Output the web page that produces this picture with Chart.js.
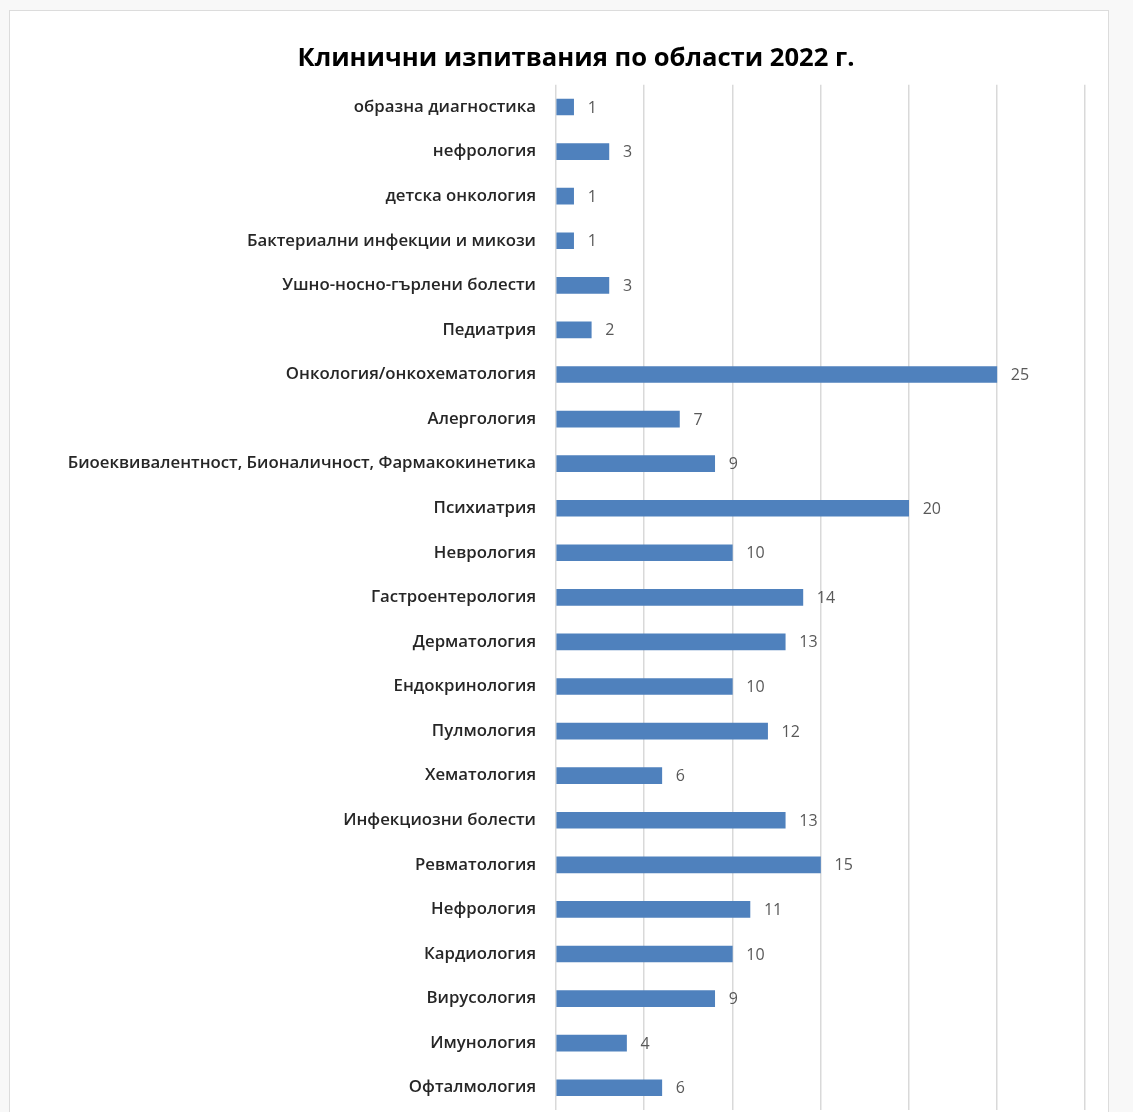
<!DOCTYPE html>
<html>
<head>
<meta charset="utf-8">
<script src="https://cdn.jsdelivr.net/npm/chart.js@4"></script>
<style>
  html, body { margin: 0; padding: 0; background: #f8f8f8; overflow: hidden; }
  #wrap { position: relative; width: 1133px; height: 1112px; }
  #frame { position: absolute; left: 9px; top: 10px; width: 1100px; height: 1120px;
           background: #ffffff; border: 1.5px solid #dcdcdc; box-sizing: border-box; }
  #chart { position: absolute; left: 0; top: 0; }
</style>
</head>
<body>
<div id="wrap">
  <div id="frame"></div>
  <canvas id="chart" width="1133" height="1112"></canvas>
</div>
<script>
const titleText = 'Клинични изпитвания по области 2022 г.';

const categories = [
  'образна диагностика',
  'нефрология',
  'детска онкология',
  'Бактериални инфекции и микози',
  'Ушно-носно-гърлени болести',
  'Педиатрия',
  'Онкология/онкохематология',
  'Алергология',
  'Биоеквивалентност, Бионаличност, Фармакокинетика',
  'Психиатрия',
  'Неврология',
  'Гастроентерология',
  'Дерматология',
  'Ендокринология',
  'Пулмология',
  'Хематология',
  'Инфекциозни болести',
  'Ревматология',
  'Нефрология',
  'Кардиология',
  'Вирусология',
  'Имунология',
  'Офталмология'
];

const trials = [1, 3, 1, 1, 3, 2, 25, 7, 9, 20, 10, 14, 13, 10, 12, 6, 13, 15, 11, 10, 9, 4, 6];

const axisMin = 0;
const axisMax = 30;
const axisStep = 5;

const FONT = '"Open Sans", "Noto Sans", sans-serif';

// Writes each bar's value just past its end
const valueLabels = {
  id: 'valueLabels',
  afterDatasetsDraw(chart) {
    const ctx = chart.ctx;
    const meta = chart.getDatasetMeta(0);
    ctx.save();
    ctx.font = '16px ' + FONT;
    ctx.fillStyle = '#595959';
    ctx.textAlign = 'left';
    ctx.textBaseline = 'middle';
    meta.data.forEach((bar, i) => {
      ctx.fillText(String(trials[i]), bar.x + 14, bar.y + 1);
    });
    ctx.restore();
  }
};

new Chart(document.getElementById('chart'), {
  type: 'bar',
  data: {
    labels: categories,
    datasets: [{
      data: trials,
      backgroundColor: '#4f81bd',
      borderWidth: 0,
      barThickness: 16
    }]
  },
  options: {
    indexAxis: 'y',
    responsive: false,
    animation: false,
    layout: { padding: { left: 67, right: 48, top: 43, bottom: 2 } },
    plugins: {
      legend: { display: false },
      tooltip: { enabled: false },
      title: {
        display: true,
        text: titleText,
        color: '#000000',
        font: { family: FONT, size: 25.6, weight: 'bold' },
        padding: { top: 0, bottom: 11 }
      }
    },
    scales: {
      x: {
        min: axisMin,
        max: axisMax,
        afterFit(scale) {
          scale.height = 0;
          scale.paddingLeft = 0;
          scale.paddingRight = 0;
        },
        ticks: { display: false, stepSize: axisStep },
        grid: { color: '#d9d9d9', lineWidth: 1.5, drawTicks: false },
        border: { display: false }
      },
      y: {
        afterFit(scale) {
          scale.width = 489;
          scale.paddingTop = 0;
          scale.paddingBottom = 0;
        },
        ticks: {
          color: '#262626',
          padding: 20,
          font: { family: FONT, size: 16.8, weight: '600' }
        },
        grid: { display: false, drawTicks: false },
        border: { display: false }
      }
    }
  },
  plugins: [valueLabels]
});
</script>
</body>
</html>
